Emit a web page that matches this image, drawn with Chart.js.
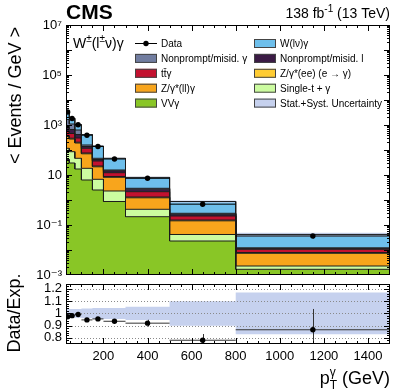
<!DOCTYPE html>
<html>
<head>
<meta charset="utf-8">
<script src="https://cdn.jsdelivr.net/npm/chart.js@4.4.1/dist/chart.umd.min.js"></script>
<style>
html, body { margin:0; padding:0; background:#fff; overflow:hidden; }
#wrap { position:relative; width:407px; height:391px; background:#fff; }
#main { position:absolute; left:0; top:0; }
#ratio { position:absolute; left:0; top:262px; }
</style>
</head>
<body>
<div id="wrap">
<canvas id="main" width="407" height="290"></canvas>
<canvas id="ratio" width="407" height="129"></canvas>
</div>
<script>
// ---------------- DATA ----------------
const binEdges = [30, 45, 70, 100, 150, 200, 300, 500, 800, 1500];
const dataPerGeV = [3311, 1820, 1019, 391, 138, 43.6, 7.38, 0.68, 0.0363];
const dataRelErr = [0.006, 0.007, 0.008, 0.01, 0.012, 0.02, 0.03, 0.065, 0.196];
const wLnuGamma = [1744, 758, 397, 254.5, 97.9, 30.75, 5.08, 0.577, 0.0297];
const nonpromptGamma = [789, 435, 214, 20.5, 4.9, 1.13, 0.24, 0.026, 0.00056];
const nonpromptLepton = [296, 204, 115, 21, 5.4, 2.36, 0.55, 0.039, 0.00097];
const ttGamma = [202, 161, 97, 41.1, 13.4, 3.65, 0.832, 0.071, 0.00273];
const zeeEtoGamma = [26, 21, 14.5, 5.4, 1.6, 0.62, 0.093, 0.011, 0.00056];
const zllGamma = [230, 189.5, 143.9, 52, 14.57, 5.8, 0.80, 0.1053, 0.00509];
const singleTopGamma = [75, 55.3, 29.2, 12.2, 4.22, 1.42, 0.21, 0.0188, 0.0006];
const vvGamma = [41.7, 30.2, 17.4, 6.31, 2.51, 0.871, 0.215, 0.0229, 0.00169];
const relUncertainty = [0.035, 0.035, 0.035, 0.04, 0.045, 0.045, 0.055, 0.10, 0.17];
const mainTickExponents = [7, 5, 3, 1, -1, -3];
const ratioTicks = [0.8, 0.9, 1.0, 1.1, 1.2];
const xTicks = [200, 400, 600, 800, 1000, 1200, 1400];

// ---------------- STYLE ----------------
const FONT = "'Liberation Sans', Arial, 'DejaVu Sans', sans-serif";
Chart.defaults.font.family = FONT;
Chart.defaults.font.size = 13;
Chart.defaults.color = '#000';

const layers = [
  {label: 'VVγ', values: vvGamma, color: '#89c626'},
  {label: 'Single-t + γ', values: singleTopGamma, color: '#ccfca0'},
  {label: 'Z/γ*(ll)γ', values: zllGamma, color: '#f8a51c'},
  {label: 'Z/γ*(ee) (e → γ)', values: zeeEtoGamma, color: '#ffcc33'},
  {label: 'tt̄γ', values: ttGamma, color: '#c3112f'},
  {label: 'Nonprompt/misid. l', values: nonpromptLepton, color: '#3b1b45'},
  {label: 'Nonprompt/misid. γ', values: nonpromptGamma, color: '#717da0'},
  {label: 'W(lν)γ', values: wLnuGamma, color: '#6ebfeb'}
];
const BAND = 'rgba(188,203,236,0.8)';
const BAND_RATIO = '#c6d1ee';

// ---------------- HELPERS ----------------
const binCenters = binEdges.slice(0, -1).map((e, i) => (e + binEdges[i + 1]) / 2);
function stepPoints(vals) {
  const pts = [];
  vals.forEach((v, i) => { pts.push({x: binEdges[i], y: v}); pts.push({x: binEdges[i + 1], y: v}); });
  return pts;
}
const cumulative = [];
layers.forEach((l, k) => {
  cumulative.push(l.values.map((v, i) => v + (k > 0 ? cumulative[k - 1][i] : 0)));
});
const totalExp = cumulative[cumulative.length - 1];
const ratioValues = dataPerGeV.map((d, i) => d / totalExp[i]);

const SUP = {'-': '⁻', '0': '⁰', '1': '¹', '2': '²', '3': '³', '4': '⁴', '5': '⁵', '6': '⁶', '7': '⁷', '8': '⁸', '9': '⁹'};
function powLabel(v) {
  const e = Math.round(Math.log10(v));
  if (e === 1) return '10';
  return '10' + String(e).split('').map(c => SUP[c]).join('');
}

function drawParts(ctx, parts, x, y, align) {
  const fnt = p => `${p.bold ? 'bold ' : ''}${p.size}px ${FONT}`;
  const meas = p => { ctx.font = fnt(p); return ctx.measureText(p.t).width; };
  const segs = []; let total = 0;
  for (let i = 0; i < parts.length; i++) {
    const p = parts[i];
    if (p.stack && i + 1 < parts.length) {
      const q = parts[i + 1];
      const w = Math.max(meas(p), meas(q));
      segs.push({items: [p, q], w}); total += w; i++;
    } else { const w = meas(p); segs.push({items: [p], w}); total += w; }
  }
  let cx = align === 'right' ? x - total : (align === 'center' ? x - total / 2 : x);
  ctx.textAlign = 'left'; ctx.textBaseline = 'alphabetic';
  for (const s of segs) {
    for (const p of s.items) { ctx.font = fnt(p); ctx.fillText(p.t, cx, y + (p.dy || 0)); }
    cx += s.w;
  }
}

function line(ctx, x1, y1, x2, y2) { ctx.beginPath(); ctx.moveTo(x1, y1); ctx.lineTo(x2, y2); ctx.stroke(); }

function drawFrameAndTicks(chart, yMajors, yMinors, len) {
  const {ctx, chartArea: a, scales} = chart;
  ctx.save();
  ctx.strokeStyle = '#000'; ctx.lineWidth = 1; ctx.setLineDash([]);
  for (let v = 50; v < 1500; v += 50) {
    const px = Math.round(scales.x.getPixelForValue(v)) + 0.5;
    if (px <= a.left || px >= a.right) continue;
    const L = (v % 200 === 0) ? len.major : len.minor;
    line(ctx, px, a.bottom, px, a.bottom - L);
    line(ctx, px, a.top, px, a.top + L);
  }
  const drawY = (vals, L) => vals.forEach(v => {
    const py = Math.round(scales.y.getPixelForValue(v)) + 0.5;
    if (py < a.top || py > a.bottom) return;
    line(ctx, a.left, py, a.left + L, py);
    line(ctx, a.right, py, a.right - L, py);
  });
  drawY(yMajors, len.major);
  drawY(yMinors, len.minor);
  ctx.strokeRect(Math.round(a.left) + 0.5, Math.round(a.top) + 0.5, Math.round(a.right - a.left) - 1, Math.round(a.bottom - a.top) - 1);
  ctx.restore();
}

function drawDataBars(chart, vals, relErr, color) {
  const {ctx, scales, chartArea: a} = chart;
  ctx.save();
  ctx.beginPath(); ctx.rect(a.left, a.top, a.right - a.left, a.bottom - a.top); ctx.clip();
  ctx.strokeStyle = color; ctx.lineWidth = 1;
  vals.forEach((v, i) => {
    const y = scales.y.getPixelForValue(v);
    line(ctx, scales.x.getPixelForValue(binEdges[i]), y, scales.x.getPixelForValue(binEdges[i + 1]), y);
    const xc = Math.round(scales.x.getPixelForValue(binCenters[i])) + 0.5;
    line(ctx, xc, scales.y.getPixelForValue(v * (1 - relErr[i])), xc, scales.y.getPixelForValue(v * (1 + relErr[i])));
  });
  ctx.restore();
}

// ---------------- MAIN PANEL ----------------
const mainDatasets = layers.map((l, k) => ({
  type: 'line', label: l.label, data: stepPoints(cumulative[k]),
  borderColor: '#1c1c1c', borderWidth: 1, backgroundColor: l.color,
  fill: k === 0 ? 'start' : '-1', pointRadius: 0, tension: 0, order: 20 - k
}));
mainDatasets.push({type: 'line', label: 'uncUp', data: stepPoints(totalExp.map((t, i) => t * (1 + relUncertainty[i]))),
  borderWidth: 0, pointRadius: 0, fill: false, order: 2});
mainDatasets.push({type: 'line', label: 'Stat.+Syst. Uncertainty', data: stepPoints(totalExp.map((t, i) => t * (1 - relUncertainty[i]))),
  borderWidth: 0, pointRadius: 0, fill: '-1', backgroundColor: BAND, order: 1});
mainDatasets.push({type: 'line', label: 'Data', data: binCenters.map((c, i) => ({x: c, y: dataPerGeV[i]})),
  showLine: false, pointRadius: 2.7, pointBackgroundColor: '#000', pointBorderWidth: 0, order: 0});

const yMainMajors = []; const yMainMinors = [];
for (let e = -3; e <= 7; e++) {
  yMainMajors.push(Math.pow(10, e));
  if (e < 7) for (let k = 2; k <= 9; k++) yMainMinors.push(k * Math.pow(10, e));
}

const legendLeft = [
  {label: 'Data', type: 'data'},
  {label: 'Nonprompt/misid. γ', color: '#717da0'},
  {label: 'tt̄γ', color: '#c3112f'},
  {label: 'Z/γ*(ll)γ', color: '#f8a51c'},
  {label: 'VVγ', color: '#89c626'}
];
const legendRight = [
  {label: 'W(lν)γ', color: '#6ebfeb'},
  {label: 'Nonprompt/misid. l', color: '#3b1b45'},
  {label: 'Z/γ*(ee) (e → γ)', color: '#ffcc33'},
  {label: 'Single-t + γ', color: '#ccfca0'},
  {label: 'Stat.+Syst. Uncertainty', color: BAND_RATIO}
];

const mainPlugin = {
  id: 'mainDeco',
  afterDatasetsDraw(chart) { drawDataBars(chart, dataPerGeV, dataRelErr, '#000'); },
  afterDraw(chart) {
    const ctx = chart.ctx;
    drawFrameAndTicks(chart, yMainMajors, yMainMinors, {major: 6, minor: 3});
    ctx.save();
    ctx.fillStyle = '#000';
    drawParts(ctx, [{t: 'CMS', size: 21, bold: true}], 66, 19, 'left');
    drawParts(ctx, [{t: '138 fb', size: 14}, {t: '-1', size: 10, dy: -6}, {t: ' (13 TeV)', size: 14}], 390, 18, 'right');
    drawParts(ctx, [{t: 'W', size: 14}, {t: '±', size: 10, dy: -6}, {t: '(l', size: 14}, {t: '±', size: 10, dy: -6}, {t: 'ν)γ', size: 14}], 73, 48, 'left');
    // legend
    const rowY = i => 43 + i * 14.9;
    const drawEntry = (e, i, bx, tx) => {
      const cy = rowY(i);
      if (e.type === 'data') {
        ctx.strokeStyle = '#000'; ctx.lineWidth = 1;
        line(ctx, bx, cy + 0.5, bx + 22, cy + 0.5);
        ctx.beginPath(); ctx.arc(bx + 11, cy + 0.5, 2.7, 0, Math.PI * 2); ctx.fillStyle = '#000'; ctx.fill();
      } else {
        ctx.fillStyle = e.color; ctx.fillRect(bx, cy - 4, 22, 9);
        ctx.strokeStyle = '#444'; ctx.lineWidth = 1; ctx.strokeRect(bx + 0.5, cy - 3.5, 21, 8);
      }
      ctx.fillStyle = '#000';
      drawParts(ctx, [{t: e.label, size: 10}], tx, cy + 4, 'left');
    };
    legendLeft.forEach((e, i) => drawEntry(e, i, 135, 161));
    legendRight.forEach((e, i) => drawEntry(e, i, 254, 280));
    // y title
    ctx.translate(16, 27); ctx.rotate(-Math.PI / 2);
    ctx.font = `18px ${FONT}`; ctx.textAlign = 'right'; ctx.textBaseline = 'middle';
    ctx.fillText('< Events / GeV >', 0, 0);
    ctx.restore();
  }
};

new Chart(document.getElementById('main'), {
  type: 'line',
  data: {datasets: mainDatasets},
  options: {
    responsive: false, animation: false, events: [],
    layout: {padding: {left: 0, right: 17, top: 25, bottom: 15}},
    plugins: {legend: {display: false}, tooltip: {enabled: false}, filler: {drawTime: 'beforeDatasetsDraw'}},
    scales: {
      x: {type: 'linear', min: 30, max: 1500, display: false},
      y: {
        type: 'logarithmic', min: 1e-3, max: 1e7,
        afterFit: s => { s.width = 66; },
        afterBuildTicks: s => { s.ticks = mainTickExponents.map(e => ({value: Math.pow(10, e)})); },
        ticks: {padding: 4, autoSkip: false, callback: v => powLabel(v), font: {size: 13}},
        grid: {display: false, drawTicks: false}, border: {display: false}
      }
    }
  },
  plugins: [mainPlugin]
});

// ---------------- RATIO PANEL ----------------
const yRatioMinors = [];
for (let v = 0.76; v < 1.24; v += 0.02) yRatioMinors.push(Math.round(v * 100) / 100);

const ratioPlugin = {
  id: 'ratioDeco',
  beforeDatasetsDraw(chart) {
    const {ctx, chartArea: a, scales} = chart;
    ctx.save();
    ctx.strokeStyle = '#8a8a8a'; ctx.lineWidth = 1; ctx.setLineDash([1, 2]);
    ratioTicks.forEach(v => {
      const py = Math.round(scales.y.getPixelForValue(v)) + 0.5;
      line(ctx, a.left, py, a.right, py);
    });
    ctx.restore();
    drawDataBars(chart, ratioValues, dataRelErr, '#333');
  },
  afterDraw(chart) {
    const ctx = chart.ctx;
    drawFrameAndTicks(chart, ratioTicks, yRatioMinors, {major: 6, minor: 3});
    ctx.save(); ctx.fillStyle = '#000';
    drawParts(ctx, [{t: 'p', size: 18}, {t: 'γ', size: 12, dy: -8, stack: true}, {t: 'T', size: 12, dy: 5}, {t: ' (GeV)', size: 18}], 390, 122, 'right');
    ctx.translate(15, 51); ctx.rotate(-Math.PI / 2);
    ctx.font = `18px ${FONT}`; ctx.textAlign = 'center'; ctx.textBaseline = 'middle';
    ctx.fillText('Data/Exp.', 0, 0);
    ctx.restore();
  }
};

new Chart(document.getElementById('ratio'), {
  type: 'line',
  data: {datasets: [
    {label: 'uncUp', data: stepPoints(relUncertainty.map(u => 1 + u)), borderWidth: 0, pointRadius: 0, fill: false, order: 2},
    {label: 'Stat.+Syst. Uncertainty', data: stepPoints(relUncertainty.map(u => 1 - u)), borderWidth: 0, pointRadius: 0, fill: '-1', backgroundColor: BAND_RATIO, order: 1},
    {label: 'Data/Exp.', data: binCenters.map((c, i) => ({x: c, y: ratioValues[i]})), showLine: false, pointRadius: 2.7, pointBackgroundColor: '#000', pointBorderWidth: 0, order: 0}
  ]},
  options: {
    responsive: false, animation: false, events: [],
    layout: {padding: {left: 0, right: 17, top: 22, bottom: 0}},
    plugins: {legend: {display: false}, tooltip: {enabled: false}, filler: {drawTime: 'beforeDatasetsDraw'}},
    scales: {
      x: {
        type: 'linear', min: 30, max: 1500,
        afterFit: s => { s.height = 47; },
        afterBuildTicks: s => { s.ticks = xTicks.map(v => ({value: v})); },
        ticks: {padding: 5, autoSkip: false, maxRotation: 0, font: {size: 13}, callback: v => String(v)},
        grid: {display: false, drawTicks: false}, border: {display: false}
      },
      y: {
        type: 'linear', min: 0.75, max: 1.24,
        afterFit: s => { s.width = 66; },
        afterBuildTicks: s => { s.ticks = ratioTicks.map(v => ({value: v})); },
        ticks: {padding: 4, autoSkip: false, callback: v => String(Math.round(v * 10) / 10), font: {size: 13}},
        grid: {display: false, drawTicks: false}, border: {display: false}
      }
    }
  },
  plugins: [ratioPlugin]
});
</script>
</body>
</html>
